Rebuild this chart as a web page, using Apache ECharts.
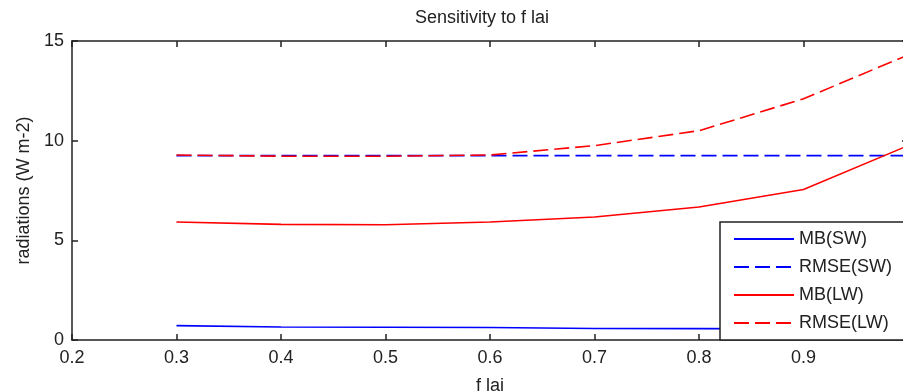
<!DOCTYPE html>
<html>
<head>
<meta charset="utf-8">
<style>html,body{margin:0;padding:0;background:#fff;overflow:hidden;}#chart{width:903px;height:392px;}</style>
<script src="https://cdn.jsdelivr.net/npm/echarts@6/dist/echarts.min.js"></script>
</head>
<body>
<div id="chart"></div>
<script>
// values
var fLai = [0.3, 0.4, 0.5, 0.6, 0.7, 0.8, 0.9, 1.0];
var mbSW = [0.72, 0.65, 0.64, 0.63, 0.58, 0.57, 0.56, 0.55];
var rmseSW = [9.25, 9.25, 9.25, 9.25, 9.25, 9.25, 9.25, 9.25];
var mbLW = [5.92, 5.8, 5.78, 5.92, 6.17, 6.67, 7.55, 9.75];
var rmseLW = [9.28, 9.22, 9.22, 9.28, 9.75, 10.5, 12.1, 14.3];
var xTicks = [0.2, 1.0, 0.1];   // min, max, step
var yTicks = [0, 15, 5];

var font = "'Liberation Sans', Arial, sans-serif";
var ink = "#222";

function pairs(ys) {
  return fLai.map(function (x, i) { return [x, ys[i]]; });
}

function line(name, ys, color, dashed) {
  return {
    name: name,
    type: "line",
    data: pairs(ys),
    symbol: "none",
    silent: true,
    lineStyle: { color: color, width: 1.6, type: dashed ? [15, 6] : "solid" },
    itemStyle: { color: color }
  };
}

var chart = echarts.init(document.getElementById("chart"), null, { renderer: "canvas" });

var axisLine = { show: true, onZero: false, lineStyle: { color: ink, width: 1.5 } };
var tick = { show: true, inside: true, length: 6, lineStyle: { color: ink, width: 1.5 } };

chart.setOption({
  animation: false,
  backgroundColor: "#fff",
  textStyle: { fontFamily: font },
  title: {
    text: "Sensitivity to f lai",
    left: 415,
    top: 9,
    padding: 0,
    textStyle: { fontFamily: font, fontSize: 18, fontWeight: "normal", color: ink }
  },
  // plot box runs a few px past the right edge (picture is cropped there)
  grid: { left: 72, right: -5, top: 41, bottom: 52, outerBoundsMode: "none" },
  legend: {
    orient: "vertical",
    left: 720,
    right: -30,
    top: 222,
    align: "left",
    padding: [8, 40, 8, 13],
    itemWidth: 60,
    itemHeight: 14,
    itemGap: 10,
    itemStyle: { opacity: 0 },
    backgroundColor: "#fff",
    borderColor: ink,
    borderWidth: 1.5,
    borderRadius: 0,
    textStyle: { fontFamily: font, fontSize: 18, lineHeight: 18, color: ink },
    data: ["MB(SW)", "RMSE(SW)", "MB(LW)", "RMSE(LW)"]
  },
  xAxis: [{
    type: "value",
    min: xTicks[0], max: xTicks[1], interval: xTicks[2],
    name: "f lai",
    nameLocation: "middle",
    nameGap: 37,
    nameTextStyle: { fontFamily: font, fontSize: 18, color: ink },
    axisLine: axisLine,
    axisTick: tick,
    splitLine: { show: false },
    axisLabel: {
      fontFamily: font, fontSize: 18, color: ink, margin: 9,
      formatter: function (v) { return String(Math.round(v * 10) / 10); }
    }
  }, {
    type: "value",
    position: "top",
    min: xTicks[0], max: xTicks[1], interval: xTicks[2],
    axisLine: axisLine,
    axisTick: tick,
    splitLine: { show: false },
    axisLabel: { show: false }
  }],
  yAxis: [{
    type: "value",
    min: yTicks[0], max: yTicks[1], interval: yTicks[2],
    name: "radiations (W m-2)",
    nameLocation: "middle",
    nameGap: 39,
    nameTextStyle: { fontFamily: font, fontSize: 18, color: ink },
    axisLine: axisLine,
    axisTick: tick,
    splitLine: { show: false },
    axisLabel: { fontFamily: font, fontSize: 18, color: ink, margin: 8 }
  }, {
    type: "value",
    position: "right",
    min: yTicks[0], max: yTicks[1], interval: yTicks[2],
    axisLine: axisLine,
    axisTick: tick,
    splitLine: { show: false },
    axisLabel: { show: false }
  }],
  series: [
    line("MB(SW)", mbSW, "#0000ff", false),
    line("RMSE(SW)", rmseSW, "#0000ff", true),
    line("MB(LW)", mbLW, "#ff0000", false),
    line("RMSE(LW)", rmseLW, "#ff0000", true)
  ]
});
</script>
</body>
</html>
